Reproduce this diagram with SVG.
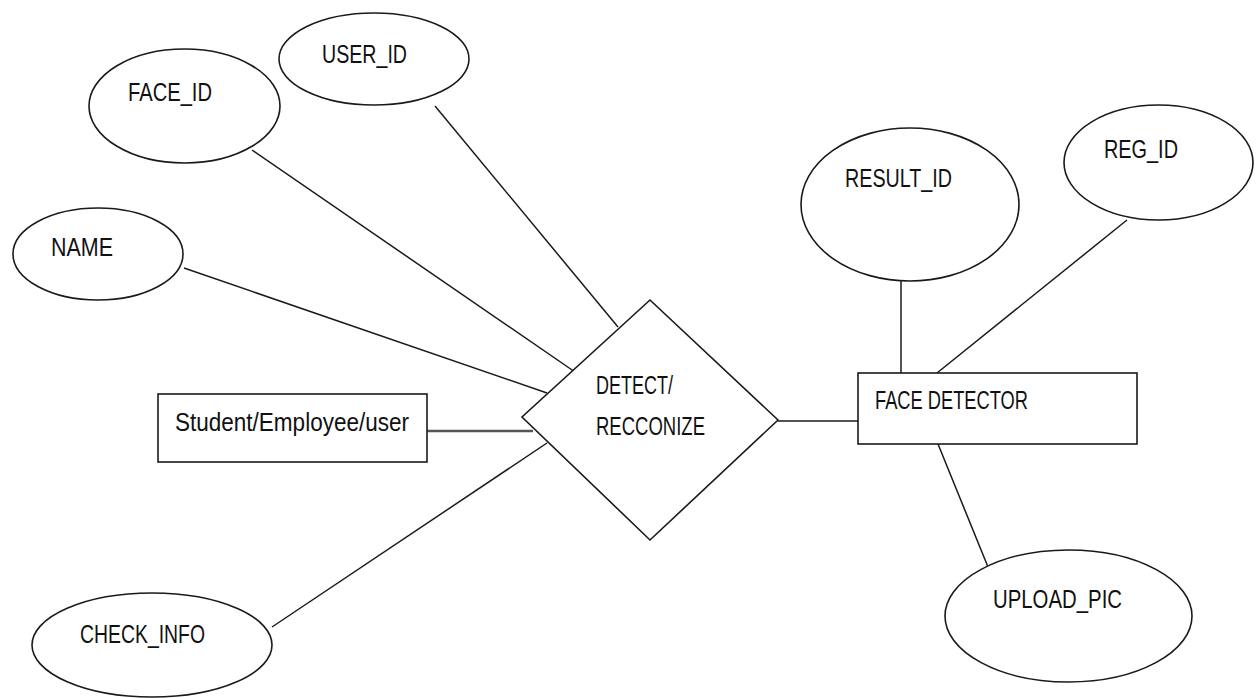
<svg xmlns="http://www.w3.org/2000/svg" width="1256" height="698" viewBox="0 0 1256 698">
<style>
.shape{fill:#fff;stroke:#1a1a1a;stroke-width:1.6}
.conn{stroke:#1a1a1a;stroke-width:1.5;fill:none}
.lbl{font-family:"Liberation Sans",Arial,sans-serif;font-size:26px;fill:#111}
</style>
<rect width="1256" height="698" fill="#fff"/>
<g id="connectors">
<line class="conn" x1="252" y1="150" x2="575" y2="372"/>
<line class="conn" x1="435" y1="106" x2="618" y2="327"/>
<line class="conn" x1="184" y1="268" x2="547" y2="393"/>
<line class="conn" x1="427" y1="431" x2="533" y2="431" style="stroke-width:2.6;stroke:#555"/>
<line class="conn" x1="272" y1="627" x2="547" y2="443"/>
<line class="conn" x1="778" y1="421" x2="858" y2="421"/>
<line class="conn" x1="901" y1="281" x2="901" y2="373"/>
<line class="conn" x1="1127" y1="220" x2="937" y2="373"/>
<line class="conn" x1="938" y1="444" x2="988" y2="567"/>
</g>
<g id="face_id"><ellipse class="shape" cx="184.5" cy="106" rx="95.5" ry="57"/><text class="lbl" x="128" y="101" textLength="84" lengthAdjust="spacingAndGlyphs">FACE_ID</text></g>
<g id="user_id"><ellipse class="shape" cx="374" cy="59" rx="95" ry="46"/><text class="lbl" x="322" y="63" textLength="85" lengthAdjust="spacingAndGlyphs">USER_ID</text></g>
<g id="name"><ellipse class="shape" cx="98" cy="254" rx="85" ry="46"/><text class="lbl" x="51" y="256" textLength="62" lengthAdjust="spacingAndGlyphs">NAME</text></g>
<g id="student"><rect class="shape" x="158" y="394" width="269" height="68"/><text class="lbl" x="175" y="431" textLength="234" lengthAdjust="spacingAndGlyphs">Student/Employee/user</text></g>
<g id="detect"><polygon class="shape" points="650,300 778,420 650,540 522,417"/><text class="lbl" x="596" y="394" textLength="77" lengthAdjust="spacingAndGlyphs">DETECT/</text><text class="lbl" x="596" y="435" textLength="109" lengthAdjust="spacingAndGlyphs">RECCONIZE</text></g>
<g id="check_info"><ellipse class="shape" cx="152" cy="645" rx="120" ry="52"/><text class="lbl" x="80" y="643" textLength="125" lengthAdjust="spacingAndGlyphs">CHECK_INFO</text></g>
<g id="face_detector"><rect class="shape" x="858" y="373" width="279" height="71"/><text class="lbl" x="875" y="409" textLength="153" lengthAdjust="spacingAndGlyphs">FACE DETECTOR</text></g>
<g id="result_id"><ellipse class="shape" cx="910" cy="204.5" rx="109" ry="76.5"/><text class="lbl" x="845" y="187" textLength="107" lengthAdjust="spacingAndGlyphs">RESULT_ID</text></g>
<g id="reg_id"><ellipse class="shape" cx="1158.5" cy="162.5" rx="94.5" ry="57.5"/><text class="lbl" x="1104" y="158" textLength="74" lengthAdjust="spacingAndGlyphs">REG_ID</text></g>
<g id="upload_pic"><ellipse class="shape" cx="1068.5" cy="616" rx="123.5" ry="66"/><text class="lbl" x="993" y="608" textLength="129" lengthAdjust="spacingAndGlyphs">UPLOAD_PIC</text></g>
</svg>
